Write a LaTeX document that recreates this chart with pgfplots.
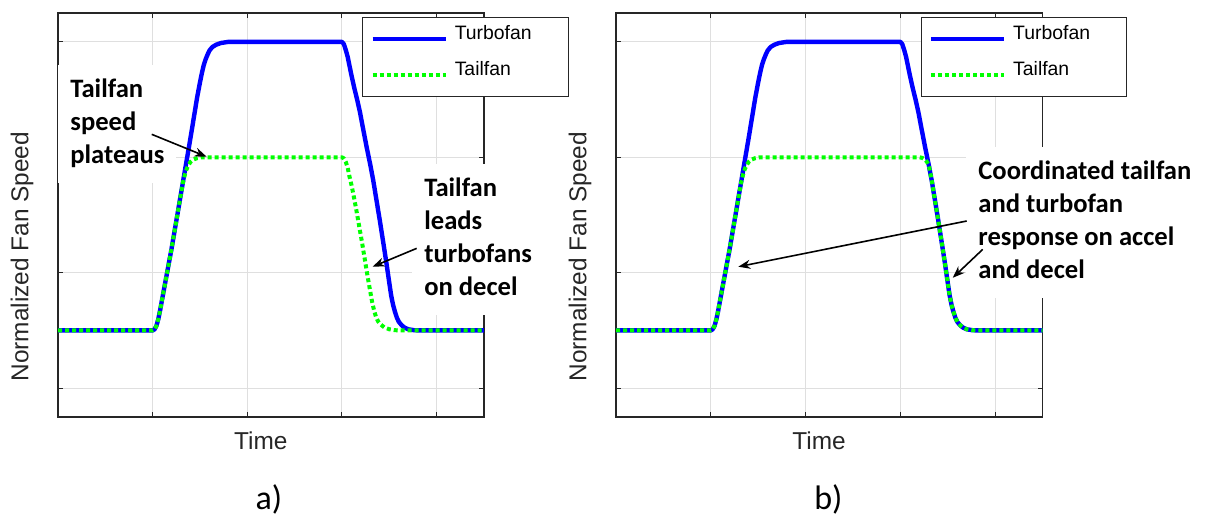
\documentclass[border=0pt]{standalone}
\usepackage{pgfplots}
\pgfplotsset{compat=1.18}
\usepackage{pgfplotstable}
\usepackage{fontspec}
\setmainfont{Liberation Sans}
\newfontfamily\carlito{Carlito}
\usetikzlibrary{arrows.meta}
\definecolor{tfblue}{RGB}{0,0,255}
\definecolor{tlgreen}{RGB}{0,255,0}
\definecolor{axgray}{RGB}{38,38,38}
\definecolor{gridgray}{RGB}{223,223,223}

\pgfplotstableread{
x y
0.00 0.5
1.00 0.5
1.02 0.51
1.04 0.54
1.06 0.60
1.08 0.68
1.10 0.77
1.15 0.99
1.20 1.21
1.25 1.45
1.30 1.69
1.35 1.93
1.40 2.17
1.44 2.37
1.47 2.52
1.50 2.65
1.52 2.73
1.54 2.80
1.56 2.85
1.58 2.89
1.60 2.925
1.63 2.955
1.67 2.975
1.72 2.99
1.80 3.0
3.00 3.00
3.02 2.98
3.04 2.93
3.06 2.87
3.08 2.79
3.10 2.71
3.13 2.60
3.16 2.50
3.19 2.39
3.22 2.26
3.26 2.09
3.30 1.93
3.33 1.80
3.37 1.60
3.40 1.45
3.44 1.24
3.47 1.08
3.50 0.91
3.52 0.80
3.54 0.72
3.56 0.66
3.58 0.61
3.60 0.575
3.63 0.545
3.66 0.525
3.70 0.51
3.76 0.502
3.82 0.5
4.50 0.5
}\turbofan

\pgfplotstableread{
x y
0.00 0.5
1.00 0.5
1.02 0.51
1.04 0.54
1.06 0.60
1.08 0.68
1.10 0.77
1.15 0.99
1.20 1.21
1.25 1.45
1.30 1.69
1.32 1.78
1.34 1.85
1.36 1.90
1.38 1.935
1.40 1.96
1.43 1.98
1.47 1.993
1.52 2.0
3.00 2.00
3.02 1.99
3.04 1.96
3.06 1.91
3.08 1.83
3.10 1.76
3.12 1.68
3.15 1.55
3.18 1.41
3.21 1.27
3.24 1.12
3.27 0.97
3.30 0.83
3.32 0.74
3.34 0.67
3.36 0.615
3.38 0.58
3.41 0.55
3.45 0.525
3.50 0.51
3.56 0.502
3.62 0.5
4.50 0.5
}\tailfanA

\pgfplotstableread{
x y
0.00 0.5
1.00 0.5
1.02 0.51
1.04 0.54
1.06 0.60
1.08 0.68
1.10 0.77
1.15 0.99
1.20 1.21
1.25 1.45
1.30 1.69
1.32 1.78
1.34 1.85
1.36 1.90
1.38 1.935
1.40 1.96
1.43 1.98
1.47 1.993
1.52 2.0
3.20 2.00
3.23 1.995
3.26 1.98
3.28 1.96
3.30 1.93
3.33 1.80
3.37 1.60
3.40 1.45
3.44 1.24
3.47 1.08
3.50 0.91
3.52 0.80
3.54 0.72
3.56 0.66
3.58 0.61
3.60 0.575
3.63 0.545
3.66 0.525
3.70 0.51
3.76 0.502
3.82 0.5
4.50 0.5
}\tailfanB

\tikzset{
  annot/.style={fill=white, inner xsep=6pt, inner ysep=4.5pt, anchor=base west,
    font=\carlito\bfseries\fontsize{13.3}{16.6}\selectfont},
  arr/.style={-{Stealth[length=6pt,width=4.5pt]}, line width=0.8pt, black},
}
\pgfplotsset{
  panel/.style={
    scale only axis, width=213pt, height=202pt,
    anchor=south west,
    xmin=0, xmax=4.5, ymin=-0.25, ymax=3.25,
    xtick={1,2,3,4}, ytick={0,1,2,3},
    xticklabels={}, yticklabels={},
    tick align=inside, major tick length=2.5pt,
    tick style={axgray, line width=0.5pt},
    grid=major, major grid style={gridgray, line width=0.5pt},
    axis line style={axgray, line width=0.6pt},
    clip=false,
    xlabel={Time}, ylabel={Normalized Fan Speed},
    label style={font=\fontsize{12.2}{14}\selectfont, text=axgray},
    xlabel style={at={(axis description cs:0.476,0)}, anchor=base, yshift=-16pt},
    ylabel style={at={(axis description cs:-0.0697,0.397)}, anchor=base, rotate=0},
    legend cell align=left,
    legend style={at={(axis description cs:0.714,0.991)}, anchor=north west,
      draw=axgray, line width=0.5pt, fill=white,
      font=\fontsize{9.7}{11}\selectfont, text=black,
      inner xsep=3.85pt, inner ysep=4.3pt, row sep=5pt,
      nodes={inner sep=0pt, text height=7pt, text depth=6pt},
      /tikz/every odd column/.append style={column sep=3.5pt}},
    legend image code/.code={\draw[##1] (0pt,0pt) -- (36.5pt,0pt);},
  },
  tfstyle/.style={tfblue, line width=2.2pt, line join=round},
  tlstyle/.style={tlgreen, line width=2pt, dash pattern=on 2pt off 1.5pt, line join=round},
}

\begin{document}
\begin{tikzpicture}
\path[use as bounding box] (0pt,0pt) rectangle (603pt,258pt);

\begin{axis}[panel, at={(29pt,49.5pt)}]
  \node[annot] at (axis cs:0.0,2.519) {\begin{tabular}[t]{@{}l@{}}Tailfan\\speed\\plateaus\end{tabular}};
  \node[annot] at (axis cs:3.739,1.664) {\begin{tabular}[t]{@{}l@{}}Tailfan\\leads\\turbofans\\on decel\end{tabular}};
  \addplot[tfstyle] table[x=x,y=y] {\turbofan};
  \addlegendentry{\makebox[52.8pt][l]{Turbofan}}
  \addplot[tlstyle] table[x=x,y=y] {\tailfanA};
  \addlegendentry{\makebox[52.8pt][l]{Tailfan}}
  \draw[arr] (axis cs:0.99,2.199) -- (axis cs:1.57,2.005);
  \draw[arr] (axis cs:3.789,1.211) -- (axis cs:3.323,1.052);
\end{axis}

\begin{axis}[panel, at={(308pt,49.5pt)}, width=213.3pt]
  \node[annot] at (axis cs:3.692,1.809) {\begin{tabular}[t]{@{}l@{}}Coordinated tailfan\\and turbofan\\response on accel\\and decel\end{tabular}};
  \addplot[tfstyle] table[x=x,y=y] {\turbofan};
  \addlegendentry{\makebox[52.8pt][l]{Turbofan}}
  \addplot[tlstyle] table[x=x,y=y] {\tailfanB};
  \addlegendentry{\makebox[52.8pt][l]{Tailfan}}
  \draw[arr] (axis cs:3.699,1.448) -- (axis cs:1.29,1.052);
  \draw[arr] (axis cs:3.868,1.202) -- (axis cs:3.552,0.956);
\end{axis}

\node[font=\carlito\fontsize{17}{20}\selectfont, anchor=base] at (134.5pt,3.5pt) {a)};
\node[font=\carlito\fontsize{17}{20}\selectfont, anchor=base] at (414.2pt,3.5pt) {b)};
\end{tikzpicture}
\end{document}
